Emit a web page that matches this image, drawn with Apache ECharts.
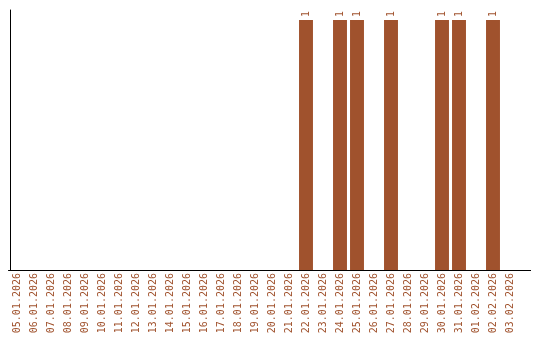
<!DOCTYPE html>
<html><head><meta charset="utf-8">
<script src="https://cdn.jsdelivr.net/npm/echarts@6/dist/echarts.min.js"></script>
<style>html,body{margin:0;padding:0;background:#fff}#c{width:540px;height:340px}</style>
</head><body><div id="c"></div>
<script>
const categories = ['05.01.2026','06.01.2026','07.01.2026','08.01.2026','09.01.2026','10.01.2026','11.01.2026','12.01.2026','13.01.2026','14.01.2026','15.01.2026','16.01.2026','17.01.2026','18.01.2026','19.01.2026','20.01.2026','21.01.2026','22.01.2026','23.01.2026','24.01.2026','25.01.2026','26.01.2026','27.01.2026','28.01.2026','29.01.2026','30.01.2026','31.01.2026','01.02.2026','02.02.2026','03.02.2026'];
const values = [0,0,0,0,0,0,0,0,0,0,0,0,0,0,0,0,0,1,0,1,1,0,1,0,0,1,1,0,1,0];
const COLOR = '#a0522d';
const FONT = 'DejaVu Sans Mono';
const chart = echarts.init(document.getElementById('c'), null, {renderer:'canvas'});
chart.setOption({
  animation:false,
  grid:{left:8.5,right:21.5,top:10,bottom:70,containLabel:false},
  xAxis:{type:'category',data:categories,
    axisLine:{show:true,lineStyle:{color:'#000',width:1}},
    axisTick:{show:false},
    axisLabel:{interval:0,rotate:90,color:COLOR,fontFamily:FONT,fontSize:10,margin:3}},
  yAxis:{type:'value',min:0,max:1.04,offset:-1.5,
    axisLine:{show:true,lineStyle:{color:'#000',width:1}},
    axisTick:{show:false},axisLabel:{show:false},splitLine:{show:false}},
  graphic:[{type:'line',shape:{x1:518,y1:270.5,x2:531,y2:270.5},style:{stroke:'#000',lineWidth:1},silent:true}],
  series:[{type:'bar',data:values,barCategoryGap:'18%',
    itemStyle:{color:COLOR},
    label:{show:true,position:'top',rotate:90,align:'left',verticalAlign:'middle',distance:3,
      color:COLOR,fontFamily:FONT,fontSize:10,
      formatter:p=>p.value?String(p.value):''}}]
});
</script></body></html>
